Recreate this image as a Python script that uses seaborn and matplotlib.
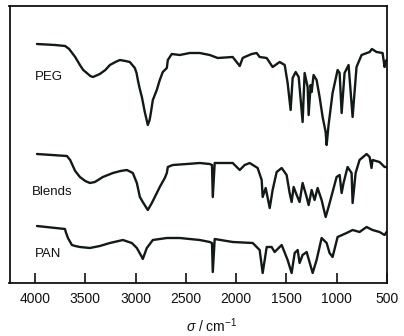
import matplotlib
matplotlib.use("Agg")
import matplotlib.pyplot as plt
import numpy as np
import pandas as pd
import seaborn as sns

# FTIR spectra (wavenumber in cm^-1, transmittance in arbitrary stacked units)
peg_wn = [3980, 3800, 3700, 3660, 3600, 3553, 3520, 3484, 3450, 3424, 3400, 3355,
          3300, 3255, 3200, 3156, 3100, 3057, 3007, 2990, 2977, 2960,
          2937, 2908, 2878, 2860, 2848, 2828, 2789, 2759, 2729, 2689, 2679, 2640, 2560,
          2461, 2362, 2262, 2183, 2034, 1964, 1935, 1915, 1845, 1796, 1766, 1696,
          1637, 1567, 1517, 1488, 1458, 1438, 1408, 1378, 1339, 1319, 1289, 1279,
          1259, 1249, 1230, 1200, 1170, 1140, 1110, 1100, 1081, 1041, 991, 971,
          951, 922, 882, 842, 803, 753, 673, 650, 604, 544, 524, 514, 505]
peg_t = [239, 238, 237, 234, 226, 218, 213, 210, 207, 206, 207, 209,
         213, 218, 221, 223, 222, 221, 215, 210, 203, 195,
         186, 171, 158, 163, 170, 183, 193, 203, 211, 215, 223, 229, 228,
         230, 230, 228, 225, 226, 217, 225, 226, 229, 230, 226, 225,
         216, 221, 218, 200, 173, 205, 211, 206, 161, 210, 196, 168,
         198, 191, 208, 203, 186, 166, 151, 138, 158, 190, 213, 210,
         170, 210, 218, 166, 216, 228, 231, 234, 231, 230, 216, 221, 223]

blend_wn = [3980, 3682, 3650, 3600, 3553, 3500, 3454, 3404, 3325, 3225, 3150, 3086,
            3027, 2987, 2957,
            2928, 2878, 2838, 2808, 2759, 2709, 2689, 2679, 2630, 2491, 2362, 2262,
            2240, 2232, 2213, 2034, 1964, 1915, 1865, 1786, 1746, 1736, 1706, 1666,
            1637, 1597, 1547, 1498, 1468, 1448, 1428, 1398, 1369, 1339, 1299, 1279,
            1249, 1220, 1190, 1150, 1110, 1081, 1041, 1001, 971, 951, 932, 892,
            852, 842, 812, 773, 703, 673, 654, 644, 574, 524, 505]
blend_t = [129, 127, 123, 112, 106, 102, 100, 101, 106, 110, 112, 113,
           110, 100, 86,
           81, 73, 80, 86, 96, 105, 110, 116, 118, 119, 120, 119,
           118, 86, 120, 120, 113, 118, 120, 115, 103, 86, 95, 75,
           93, 111, 115, 108, 90, 81, 96, 88, 81, 100, 86, 78,
           93, 83, 95, 83, 66, 76, 91, 106, 108, 90, 100, 116,
           110, 80, 110, 123, 129, 126, 115, 123, 121, 116, 116]

pan_wn = [3980, 3702, 3690, 3672, 3633, 3600, 3553, 3454, 3355, 3255, 3126, 3037,
          2987, 2937,
          2928, 2888, 2828, 2689, 2560, 2362, 2262, 2240, 2232, 2213, 2034, 1835,
          1766, 1736, 1696, 1647, 1617, 1547, 1488, 1448, 1418, 1388, 1369, 1339,
          1299, 1239, 1200, 1150, 1100, 1071, 1041, 991, 902, 842, 773, 703,
          644, 574, 524, 505]
pan_t = [57, 54, 50, 45, 38, 37, 36, 35, 37, 40, 43, 40,
         35, 26,
         24, 35, 43, 45, 45, 43, 41, 40, 11, 44, 41, 40,
         33, 10, 36, 36, 31, 38, 23, 10, 30, 33, 20, 28,
         31, 10, 23, 45, 40, 30, 26, 46, 50, 53, 51, 56,
         53, 51, 48, 51]

samples = ["PEG", "Blends", "PAN"]
label_pos = [(4000, 206), (4030, 91), (4000, 29)]
xticks = [4000, 3500, 3000, 2500, 2000, 1500, 1000, 500]

df = pd.concat([
    pd.DataFrame({"wn": peg_wn, "t": peg_t, "sample": "PEG"}),
    pd.DataFrame({"wn": blend_wn, "t": blend_t, "sample": "Blends"}),
    pd.DataFrame({"wn": pan_wn, "t": pan_t, "sample": "PAN"}),
])

sns.set_style("white")
plt.rcParams["font.family"] = ["Liberation Sans", "DejaVu Sans"]
plt.rcParams["mathtext.fontset"] = "custom"
plt.rcParams["mathtext.rm"] = "Liberation Sans"
plt.rcParams["mathtext.it"] = "Liberation Sans:italic"

line_color = "#121a15"
fig = plt.figure(figsize=(4.04, 3.36), dpi=100)
ax = fig.add_axes([9.5 / 404, 1 - 283 / 336, (387 - 9.5) / 404, (283 - 6) / 336])

sns.lineplot(data=df, x="wn", y="t", hue="sample", units="sample", estimator=None,
             sort=False, palette={s: line_color for s in samples},
             linewidth=1.7, legend=False, ax=ax)

for name, (x, y) in zip(samples, label_pos):
    ax.text(x, y, name, fontsize=9.5, color="#111111", ha="left", va="center")

ax.set_xlim(4253, 500)
ax.set_ylim(0, 277)
ax.set_xticks(xticks)
ax.set_xticklabels([str(v) for v in xticks], fontsize=10, color="#111111")
ax.set_yticks([])
ax.set_ylabel("")
ax.tick_params(axis="x", direction="in", length=7, width=1.2, pad=6.5,
               colors="#111111", bottom=True)
for sp in ax.spines.values():
    sp.set_linewidth(1.3)
    sp.set_color("#111111")

ax.set_xlabel(r"$\sigma$ / cm$^{-1}$", fontsize=10, color="#111111")
ax.xaxis.set_label_coords(0.536, -0.12)

fig.savefig("out.png", dpi=100)
